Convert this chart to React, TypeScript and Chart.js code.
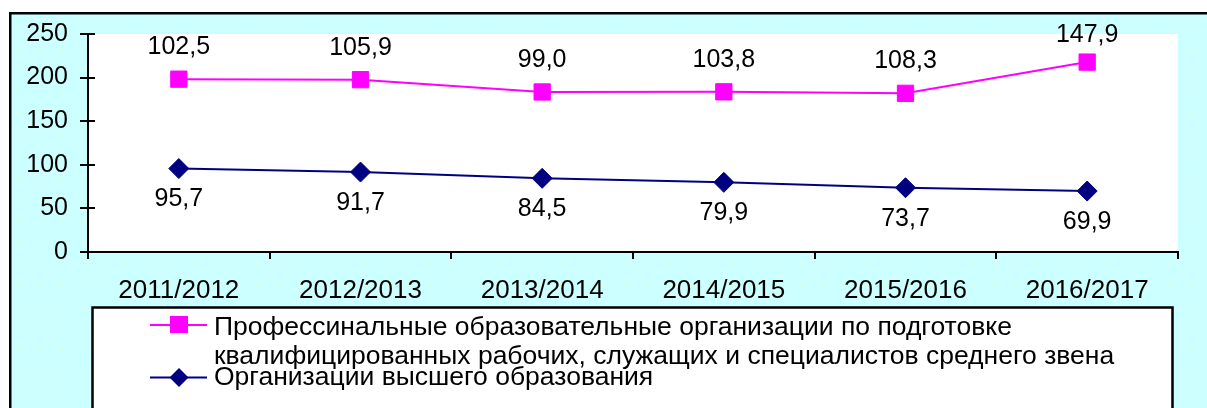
import React, { useEffect, useRef } from 'react';
import { Chart, registerables } from 'chart.js';

Chart.register(...registerables);

const categories = ['2011/2012', '2012/2013', '2013/2014', '2014/2015', '2015/2016', '2016/2017'];
const higherEd = [95.7, 91.7, 84.5, 79.9, 73.7, 69.9];
const vocational = [102.5, 105.9, 99.0, 103.8, 108.3, 147.9];
const yTickValues = [0, 50, 100, 150, 200, 250];
const vocationalLabel = [
  'Профессинальные образовательные организации по подготовке',
  'квалифицированных рабочих, служащих и специалистов среднего звена',
];
const higherEdLabel = 'Организации высшего образования';

const FONT = "'Liberation Sans', Arial, sans-serif";
const MAGENTA = '#ff00ff';
const NAVY = '#000080';
const W = 1207;
const H = 408;

const fmt = (v: number) => v.toFixed(1).replace('.', ',');

const bgPlugin = {
  id: 'bg',
  beforeDraw(chart: any) {
    const ctx = chart.ctx;
    const ca = chart.chartArea;
    ctx.save();
    ctx.fillStyle = '#ffffff';
    ctx.fillRect(0, 0, W, H);
    ctx.fillStyle = '#ccffff';
    ctx.fillRect(10, 13, W, H);
    ctx.fillStyle = '#e3fbd2';
    for (let y = 3.3; y < H; y += 21.7) {
      for (let x = 17.8; x < W; x += 21.7) {
        if (x > 11 && y > 14) ctx.fillRect(Math.round(x), Math.round(y), 2, 2);
      }
    }
    ctx.strokeStyle = '#000';
    ctx.lineWidth = 2.5;
    ctx.beginPath();
    ctx.moveTo(10.25, H + 5);
    ctx.lineTo(10.25, 13.25);
    ctx.lineTo(W + 5, 13.25);
    ctx.stroke();
    ctx.fillStyle = '#ffffff';
    ctx.fillRect(ca.left, ca.top, ca.right - ca.left, ca.bottom - ca.top);
    ctx.restore();
  },
};

const innerTicksPlugin = {
  id: 'innerTicks',
  afterDraw(chart: any) {
    const ctx = chart.ctx;
    const ys = chart.scales.y;
    const ca = chart.chartArea;
    ctx.save();
    ctx.strokeStyle = '#000';
    ctx.lineWidth = 2;
    ys.ticks.forEach((t: any) => {
      const y = Math.round(ys.getPixelForValue(t.value));
      ctx.beginPath();
      ctx.moveTo(ca.left, y);
      ctx.lineTo(ca.left + 7, y);
      ctx.stroke();
    });
    ctx.restore();
  },
};

const labelsPlugin = {
  id: 'dataLabels',
  afterDatasetsDraw(chart: any) {
    const ctx = chart.ctx;
    ctx.save();
    ctx.font = `25px ${FONT}`;
    ctx.fillStyle = '#000';
    ctx.textAlign = 'center';
    ctx.textBaseline = 'middle';
    const m0 = chart.getDatasetMeta(0);
    m0.data.forEach((p: any, i: number) => {
      ctx.fillText(fmt(higherEd[i]), p.x, p.y + 31);
    });
    const m1 = chart.getDatasetMeta(1);
    m1.data.forEach((p: any, i: number) => {
      ctx.fillText(fmt(vocational[i]), p.x, Math.max(p.y - 32, 35));
    });
    ctx.restore();
  },
};

const legendPlugin = {
  id: 'customLegend',
  afterDraw(chart: any) {
    const ctx = chart.ctx;
    const ds = chart.data.datasets;
    ctx.save();
    ctx.fillStyle = '#ffffff';
    ctx.fillRect(92, 307, 1172 - 92, H);
    ctx.strokeStyle = '#000';
    ctx.lineWidth = 2.5;
    ctx.strokeRect(92.5, 307.5, 1172 - 92, H);

    // item 1 (vocational)
    ctx.strokeStyle = ds[1].borderColor;
    ctx.lineWidth = 2;
    ctx.beginPath();
    ctx.moveTo(150, 325);
    ctx.lineTo(207, 325);
    ctx.stroke();
    ctx.fillStyle = ds[1].backgroundColor;
    ctx.fillRect(170, 316, 18, 17);

    // item 2 (higher ed)
    ctx.strokeStyle = ds[0].borderColor;
    ctx.beginPath();
    ctx.moveTo(150, 377.5);
    ctx.lineTo(207, 377.5);
    ctx.stroke();
    ctx.fillStyle = ds[0].backgroundColor;
    ctx.beginPath();
    ctx.moveTo(179, 368);
    ctx.lineTo(188.5, 377.5);
    ctx.lineTo(179, 387);
    ctx.lineTo(169.5, 377.5);
    ctx.closePath();
    ctx.fill();

    ctx.fillStyle = '#000';
    ctx.font = `26.5px ${FONT}`;
    ctx.textAlign = 'left';
    ctx.textBaseline = 'alphabetic';
    ctx.fillText(vocationalLabel[0], 214, 335);
    ctx.fillText(vocationalLabel[1], 214, 364);
    ctx.fillText(higherEdLabel, 214, 385);
    ctx.restore();
  },
};

export default function App() {
  const ref = useRef<HTMLCanvasElement | null>(null);
  useEffect(() => {
    document.body.style.margin = '0';
    const canvas = ref.current;
    if (!canvas) return;
    const chart = new Chart(canvas, {
      type: 'line',
      data: {
        labels: categories,
        datasets: [
          {
            label: higherEdLabel,
            data: higherEd,
            borderColor: NAVY,
            backgroundColor: NAVY,
            borderWidth: 2,
            pointStyle: 'rectRot',
            pointRadius: 10,
            pointBorderWidth: 1,
            pointBackgroundColor: NAVY,
            pointBorderColor: NAVY,
            fill: false,
            tension: 0,
          },
          {
            label: vocationalLabel.join(' '),
            data: vocational,
            borderColor: MAGENTA,
            backgroundColor: MAGENTA,
            borderWidth: 2,
            pointStyle: 'rect',
            pointRadius: 11.5,
            pointBorderWidth: 1,
            pointBackgroundColor: MAGENTA,
            pointBorderColor: MAGENTA,
            fill: false,
            tension: 0,
          },
        ],
      },
      options: {
        responsive: false,
        animation: false,
        devicePixelRatio: 1,
        layout: { padding: { top: 34, right: 29, left: 0, bottom: 0 } },
        plugins: {
          legend: { display: false },
          title: { display: false },
          tooltip: { enabled: false },
        },
        scales: {
          x: {
            offset: true,
            grid: {
              offset: true,
              drawOnChartArea: false,
              color: '#000',
              lineWidth: 2,
              tickLength: 7,
            },
            border: { color: '#000', width: 2 },
            ticks: {
              color: '#000',
              font: { family: FONT, size: 26 },
              padding: 16,
              maxRotation: 0,
              autoSkip: false,
            },
            afterFit: (s: any) => {
              s.height = 156;
            },
          },
          y: {
            stacked: true,
            min: 0,
            max: 250,
            afterBuildTicks: (s: any) => {
              s.ticks = yTickValues.map((v) => ({ value: v }));
            },
            ticks: {
              color: '#000',
              font: { family: FONT, size: 25 },
              padding: 12,
            },
            grid: {
              drawOnChartArea: false,
              color: '#000',
              lineWidth: 2,
              tickLength: 8,
            },
            border: { color: '#000', width: 2 },
            afterFit: (s: any) => {
              s.width = 88;
            },
          },
        },
      },
      plugins: [bgPlugin, innerTicksPlugin, labelsPlugin, legendPlugin],
    } as any);
    return () => chart.destroy();
  }, []);
  return (
    <div style={{ position: 'absolute', left: 0, top: 0, width: W, height: H }}>
      <canvas ref={ref} width={W} height={H} style={{ display: 'block', width: W, height: H }} />
    </div>
  );
}
